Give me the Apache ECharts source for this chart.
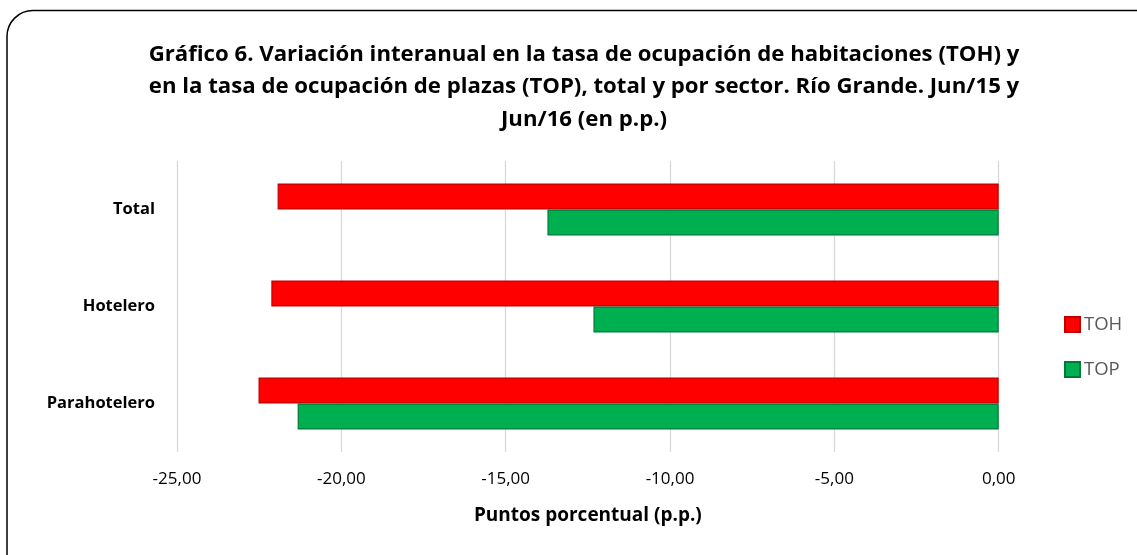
<!DOCTYPE html>
<html>
<head>
<meta charset="utf-8">
<script src="https://cdn.jsdelivr.net/npm/echarts@6/dist/echarts.min.js"></script>
<style>
html,body{margin:0;padding:0;background:#fff;}
#chart{width:1137px;height:555px;}
</style>
</head>
<body>
<div id="chart"></div>
<script>
const categories = ['Total', 'Hotelero', 'Parahotelero'];
const seriesNames = ['TOH', 'TOP'];
const tohValues = [-21.94, -22.13, -22.52];
const topValues = [-13.73, -12.33, -21.33];
const xTicks = { min: -25, max: 0, interval: 5 };
const titleText = 'Gráfico 6. Variación interanual en la tasa de ocupación de habitaciones (TOH) y\nen la tasa de ocupación de plazas (TOP), total y por sector. Río Grande. Jun/15 y\nJun/16 (en p.p.)';
const xAxisName = 'Puntos porcentual (p.p.)';

const FONT = '"Open Sans", "Noto Sans", "Liberation Sans", sans-serif';
const chart = echarts.init(document.getElementById('chart'));
chart.setOption({
  animation: false,
  backgroundColor: '#fff',
  textStyle: { fontFamily: FONT },
  graphic: [{
    type: 'rect', z: 100, silent: true,
    shape: { x: 7, y: 10.5, width: 1170, height: 580, r: 26 },
    style: { fill: 'none', stroke: '#000', lineWidth: 1.5 }
  }],
  title: {
    text: titleText,
    left: 579, top: 33, textAlign: 'center',
    textStyle: { fontFamily: FONT, fontSize: 22.2, fontWeight: 'bold', color: '#000', lineHeight: 32.5 }
  },
  legend: {
    orient: 'vertical', left: 1059, top: 310,
    itemWidth: 15, itemHeight: 15, itemGap: 26, icon: 'rect',
    data: seriesNames,
    textStyle: { fontFamily: FONT, fontSize: 18.5, color: '#595959', padding: [0,0,0,-1] }
  },
  grid: { left: 177, right: 138.3, top: 161, bottom: 103, containLabel: false },
  xAxis: {
    type: 'value', min: xTicks.min, max: xTicks.max, interval: xTicks.interval,
    axisLine: { show: false }, axisTick: { show: false },
    splitLine: { show: true, lineStyle: { color: '#d9d9d9', width: 1.3 } },
    axisLabel: {
      margin: 19, fontSize: 17, color: '#000', fontFamily: FONT,
      formatter: v => v.toFixed(2).replace('.', ',')
    },
    name: xAxisName, nameLocation: 'middle', nameGap: 54,
    nameTextStyle: { fontFamily: FONT, fontSize: 19, fontWeight: 'bold', color: '#000' }
  },
  yAxis: {
    type: 'category', data: categories, inverse: true,
    axisLine: { show: false }, axisTick: { show: false },
    axisLabel: { margin: 22, fontSize: 16.5, fontWeight: 'bold', color: '#000', fontFamily: FONT }
  },
  series: [
    {
      name: seriesNames[0], type: 'bar', data: tohValues,
      barWidth: 26, barGap: '0%',
      itemStyle: { color: '#ff0000', borderColor: '#c00000', borderWidth: 1.2 }
    },
    {
      name: seriesNames[1], type: 'bar', data: topValues,
      barWidth: 26, barGap: '0%',
      itemStyle: { color: '#00b050', borderColor: '#007a3a', borderWidth: 1.2 }
    }
  ]
});
</script>
</body>
</html>
